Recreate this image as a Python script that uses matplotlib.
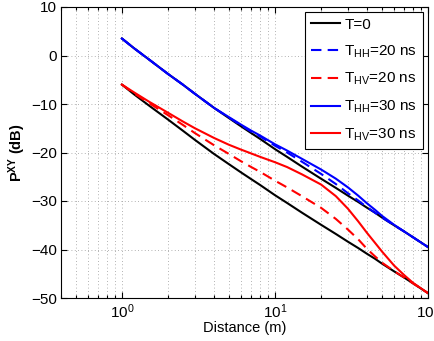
import numpy as np
import matplotlib
matplotlib.use("Agg")
import matplotlib.pyplot as plt
from matplotlib.ticker import LogLocator, NullFormatter, FixedLocator

plt.rcParams['font.family'] = ['Liberation Sans', 'DejaVu Sans']
plt.rcParams['mathtext.fontset'] = 'custom'
plt.rcParams['mathtext.rm'] = 'Liberation Sans'
plt.rcParams['mathtext.it'] = 'Liberation Sans:italic'
plt.rcParams['mathtext.bf'] = 'Liberation Sans:bold'

distance = [1, 1.2, 1.5, 2, 2.5, 3, 4, 5, 6, 7, 8, 10, 12, 15, 20, 25, 30, 35, 40, 45, 50, 60, 70, 80, 100]
t0_hv = [-6, -8.0, -10.3, -13.2, -15.5, -17.4, -20.3, -22.4, -24.1, -25.5, -26.7, -28.8, -30.4, -32.4,
         -34.9, -36.8, -38.4, -39.7, -40.9, -41.9, -42.9, -44.5, -45.8, -47.0, -49]
t0_hh = [3.5, 1.5, -0.8, -3.8, -6.0, -7.9, -10.8, -12.9, -14.6, -16.0, -17.2, -19.3, -20.9, -22.9,
         -25.4, -27.3, -28.9, -30.2, -31.4, -32.4, -33.4, -35.0, -36.3, -37.5, -39.5]
hh_20 = [3.5, 1.5, -0.8, -3.8, -6.0, -7.9, -10.8, -12.8, -14.4, -15.7, -16.7, -18.6, -20.0, -21.9,
         -24.4, -26.5, -28.4, -29.9, -31.3, -32.4, -33.4, -35.0, -36.3, -37.5, -39.5]
hv_20 = [-6, -7.8, -9.8, -12.3, -14.3, -16.0, -18.5, -20.3, -21.8, -23.0, -24.0, -25.8, -27.2, -29.0,
         -31.4, -33.7, -35.9, -37.9, -39.9, -41.4, -42.7, -44.45, -45.8, -47.0, -49]
hh_30 = [3.5, 1.5, -0.8, -3.8, -6.0, -7.9, -10.8, -12.7, -14.25, -15.5, -16.5, -18.3, -19.6, -21.3,
         -23.5, -25.4, -27.2, -28.9, -30.5, -31.8, -33.05, -34.9, -36.3, -37.5, -39.5]
hv_30 = [-6, -7.6, -9.5, -11.8, -13.6, -15.0, -17.0, -18.4, -19.4, -20.2, -20.9, -22.0, -23.0, -24.5,
         -26.6, -29.0, -31.6, -34.2, -36.6, -38.6, -40.4, -43.3, -45.3, -46.9, -49]

fig = plt.figure(figsize=(4.34, 3.41), dpi=100)
ax = fig.add_axes([61/434, 1-298/341, (428-61)/434, (298-7)/341])

lw = 1.5
ax.plot(distance, t0_hh, color='black', lw=lw)
ax.plot(distance, t0_hv, color='black', lw=lw, label='T=0')
ax.plot(distance, hh_20, color='#0000ff', lw=lw, ls=(0, (5, 3)), label=r'T$_{\mathrm{HH}}$=20 ns')
ax.plot(distance, hv_20, color='#ff0000', lw=lw, ls=(0, (5, 3)), label=r'T$_{\mathrm{HV}}$=20 ns')
ax.plot(distance, hh_30, color='#0000ff', lw=lw, label=r'T$_{\mathrm{HH}}$=30 ns')
ax.plot(distance, hv_30, color='#ff0000', lw=lw, label=r'T$_{\mathrm{HV}}$=30 ns')

ax.set_xscale('log')
ax.set_xlim(0.4, 100)
ax.set_ylim(-50, 10)
ax.set_yticks([-50, -40, -30, -20, -10, 0, 10])
ax.set_yticklabels(['\u221250', '\u221240', '\u221230', '\u221220', '\u221210', '0', '10'])
ax.xaxis.set_major_locator(FixedLocator([1, 10, 100]))
ax.xaxis.set_minor_locator(LogLocator(base=10, subs=np.arange(2, 10)))
ax.xaxis.set_minor_formatter(NullFormatter())
ax.set_xticklabels([r'10$^{0}$', r'10$^{1}$', r'10$^{2}$'])

ax.grid(True, which='major', ls=(0, (1, 3)), color='#999999', lw=0.6)
ax.grid(True, which='minor', axis='x', ls=(0, (1, 3)), color='#999999', lw=0.6)
ax.tick_params(which='both', direction='in', top=True, right=True, labelsize=11, width=0.8)
ax.tick_params(which='major', length=4, pad=3)
ax.tick_params(which='minor', length=2)
for s in ax.spines.values():
    s.set_linewidth(0.8)

ax.set_xlabel('Distance (m)', fontsize=10.5, labelpad=0)
ax.set_ylabel(r'$\mathbf{P^{XY}}$ (dB)', fontsize=10.5, fontweight='bold', labelpad=2)

leg = ax.legend(loc='upper right', fontsize=11, frameon=True, fancybox=False,
                edgecolor='black', framealpha=1, borderaxespad=0.3,
                handlelength=1.9, labelspacing=0.75, handletextpad=0.3, borderpad=0.4)
leg.get_frame().set_linewidth(0.8)

fig.savefig('out.png', dpi=100)
